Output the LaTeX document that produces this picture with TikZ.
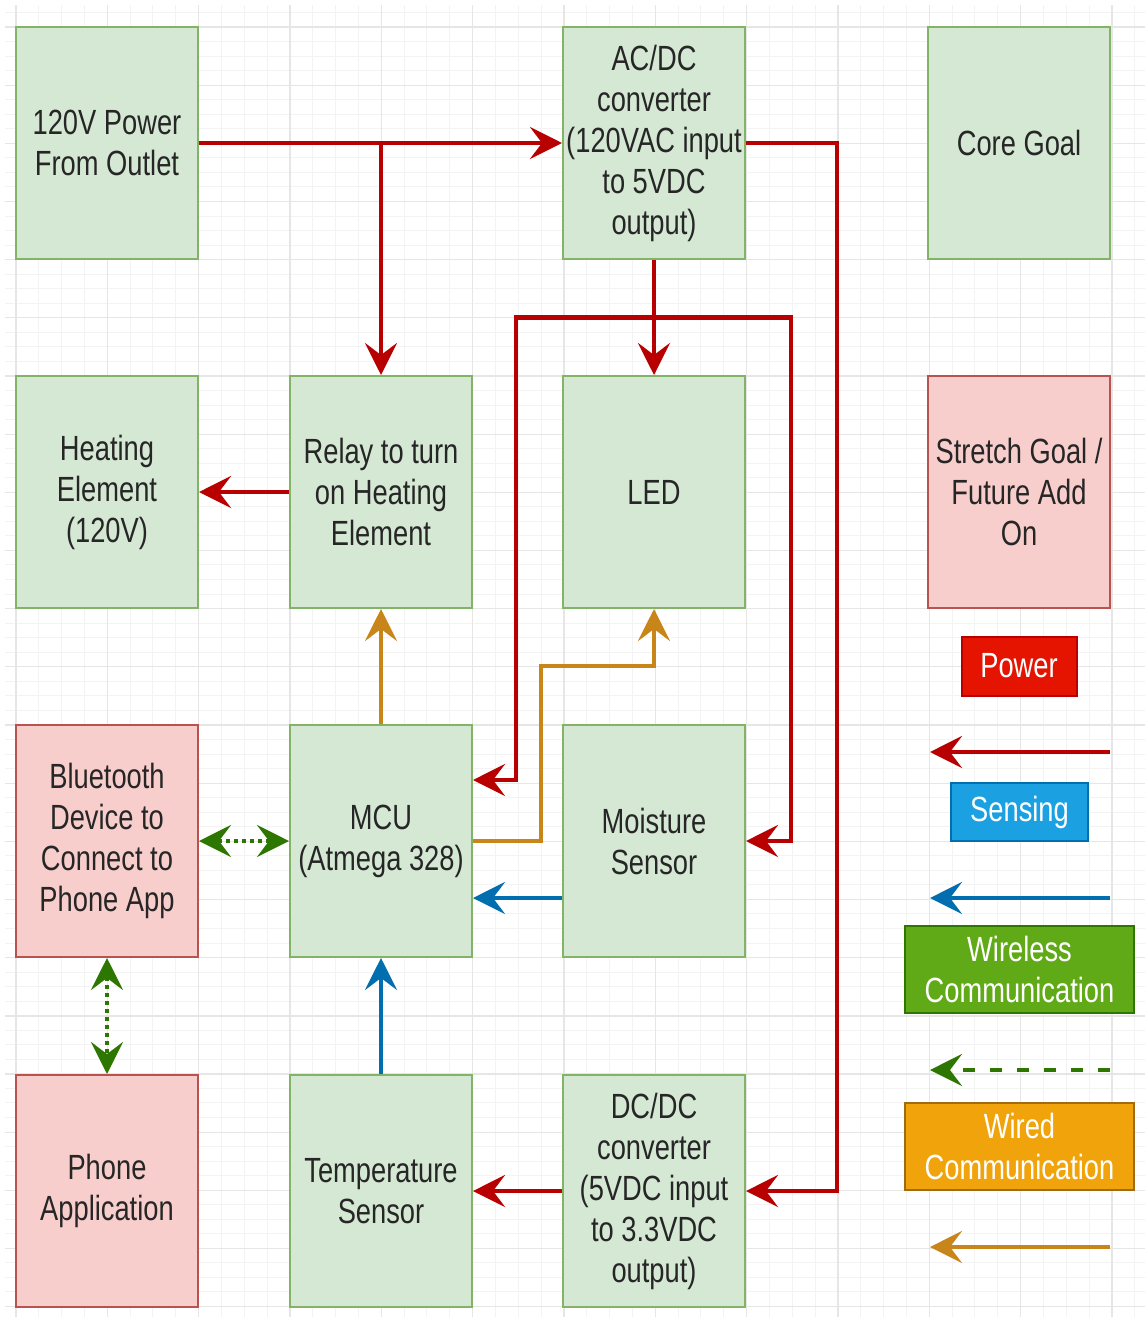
\documentclass[tikz,border=0pt]{standalone}
\usepackage{fontspec}
\setmainfont{Liberation Sans}[FakeStretch=0.78]
\usetikzlibrary{arrows.meta,calc}

\definecolor{coreFill}{HTML}{D5E8D4}
\definecolor{coreLine}{HTML}{82B366}
\definecolor{addFill}{HTML}{F8CECC}
\definecolor{addLine}{HTML}{B85450}
\definecolor{pwrRed}{HTML}{B80000}
\definecolor{pwrFill}{HTML}{E51400}
\definecolor{senseFill}{HTML}{1BA1E2}
\definecolor{senseLine}{HTML}{006EAF}
\definecolor{wlFill}{HTML}{60A917}
\definecolor{wlLine}{HTML}{2D7600}
\definecolor{wdFill}{HTML}{F0A30A}
\definecolor{wdLine}{HTML}{C8861A}
\definecolor{gridMinor}{HTML}{F3F3F3}
\definecolor{gridMajor}{HTML}{E6E6E6}

\tikzset{
  tip/.tip={Stealth[length=16pt,width=16pt,inset=6pt]},
  block/.style={draw=coreLine, fill=coreFill, line width=1pt, minimum width=91pt, minimum height=116pt,
    inner sep=0pt, align=center, text=black!85, font=\fontsize{17.5}{20.5}\selectfont},
  addon/.style={block, draw=addLine, fill=addFill},
  keybox/.style={line width=1pt, inner sep=0pt, align=center, text=white, font=\fontsize{17.5}{20.5}\selectfont},
  pwrline/.style={draw=pwrRed, line width=2.2pt, -tip},
  senseline/.style={draw=senseLine, line width=2pt, -tip},
  wiredline/.style={draw=wdLine, line width=2pt, -tip},
  wlline/.style={draw=wlLine, line width=2pt, tip-tip, dash pattern=on 2pt off 2pt},
}

\begin{document}
\begin{tikzpicture}[x=0.5pt, y=-0.5pt]
  \useasboundingbox (0,0) rectangle (1145,1317);

  % background grid
  \foreach \k in {0,...,49} \draw[gridMinor, line width=0.5pt] ({16+22.83*\k},5) -- ({16+22.83*\k},1317);
  \foreach \k in {-1,...,88} \draw[gridMinor, line width=0.5pt] (5,{27+14.54*\k}) -- (1145,{27+14.54*\k});
  \foreach \k in {0,...,12} \draw[gridMajor, line width=0.6pt] ({16+91.33*\k},5) -- ({16+91.33*\k},1317);
  \foreach \k in {0,...,22} \draw[gridMajor, line width=0.6pt] (5,{27+58.17*\k}) -- (1145,{27+58.17*\k});

  % row 1
  \node[block] (outlet) at (107,143) {120V Power\\From Outlet};
  \node[block] (acdc) at (654,143) {AC/DC\\converter\\(120VAC input\\to 5VDC\\output)};
  \node[block] (core) at (1019,143) {Core Goal};

  % row 2
  \node[block] (heater) at (107,492) {Heating\\Element\\(120V)};
  \node[block] (relay) at (381,492) {Relay to turn\\on Heating\\Element};
  \node[block] (led) at (654,492) {LED};
  \node[addon] (stretch) at (1019,492) {Stretch Goal /\\Future Add\\On};

  % row 3
  \node[addon] (bt) at (107,841) {Bluetooth\\Device to\\Connect to\\Phone App};
  \node[block] (mcu) at (381,841) {MCU\\(Atmega 328)};
  \node[block] (moist) at (654,841) {Moisture\\Sensor};

  % row 4
  \node[addon] (phone) at (107,1191) {Phone\\Application};
  \node[block] (temp) at (381,1191) {Temperature\\Sensor};
  \node[block] (dcdc) at (654,1191) {DC/DC\\converter\\(5VDC input\\to 3.3VDC\\output)};

  % legend
  \node[keybox, draw=pwrRed, fill=pwrFill, minimum width=57.5pt, minimum height=29.5pt] (keypwr) at (1019,666) {Power};
  \node[keybox, draw=senseLine, fill=senseFill, minimum width=68.5pt, minimum height=29pt] (keysense) at (1019.5,812) {Sensing};
  \node[keybox, draw=wlLine, fill=wlFill, minimum width=114.5pt, minimum height=43.5pt] (keywl) at (1019.5,969) {Wireless\\Communication};
  \node[keybox, draw=wdLine!80!black, fill=wdFill, minimum width=114.5pt, minimum height=43.5pt] (keywd) at (1019.5,1146) {Wired\\Communication};
  \coordinate (pwrA) at (1110,752);  \coordinate (pwrB) at (930,752);
  \coordinate (senseA) at (1110,898); \coordinate (senseB) at (930,898);
  \coordinate (wlA) at (1110,1070);  \coordinate (wlB) at (930,1070);
  \coordinate (wdA) at (1110,1247);  \coordinate (wdB) at (930,1247);
  \draw[pwrline] (pwrA) -- (pwrB);
  \draw[senseline] (senseA) -- (senseB);
  \draw[wlLine, line width=2pt, -tip, dash pattern=on 6pt off 7.5pt] (wlA) -- (wlB);
  \draw[wiredline] (wdA) -- (wdB);

  % power
  \coordinate (tap) at (relay.north |- outlet.east);
  \coordinate (split) at ($(acdc.south)!0.5!(led.north)$);
  \draw[pwrline] (outlet.east) -- (acdc.west);
  \draw[pwrline] (tap) -- (relay.north);
  \draw[pwrline] (acdc.south) -- (led.north);
  \draw[pwrline] (acdc.east) -- ++(91,0) |- (dcdc.east);
  \draw[pwrline] (split) -- ++(-138,0) |- ([yshift=30.5pt]mcu.east);
  \draw[pwrline] (split) -- ++(137,0) |- (moist.east);
  \draw[pwrline] (relay.west) -- (heater.east);
  \draw[pwrline] (dcdc.west) -- (temp.east);

  % wired
  \draw[wiredline] (mcu.north) -- (relay.south);
  \draw[wiredline] (mcu.east) -- ++(68,0) -- ++(0,-175) -| (led.south);

  % sensing
  \draw[senseline] ([yshift=-28.5pt]moist.west) -- ([yshift=-28.5pt]mcu.east);
  \draw[senseline] (temp.north) -- (mcu.south);

  % wireless
  \draw[wlline] (bt.east) -- (mcu.west);
  \draw[wlline] (bt.south) -- (phone.north);
\end{tikzpicture}
\end{document}
